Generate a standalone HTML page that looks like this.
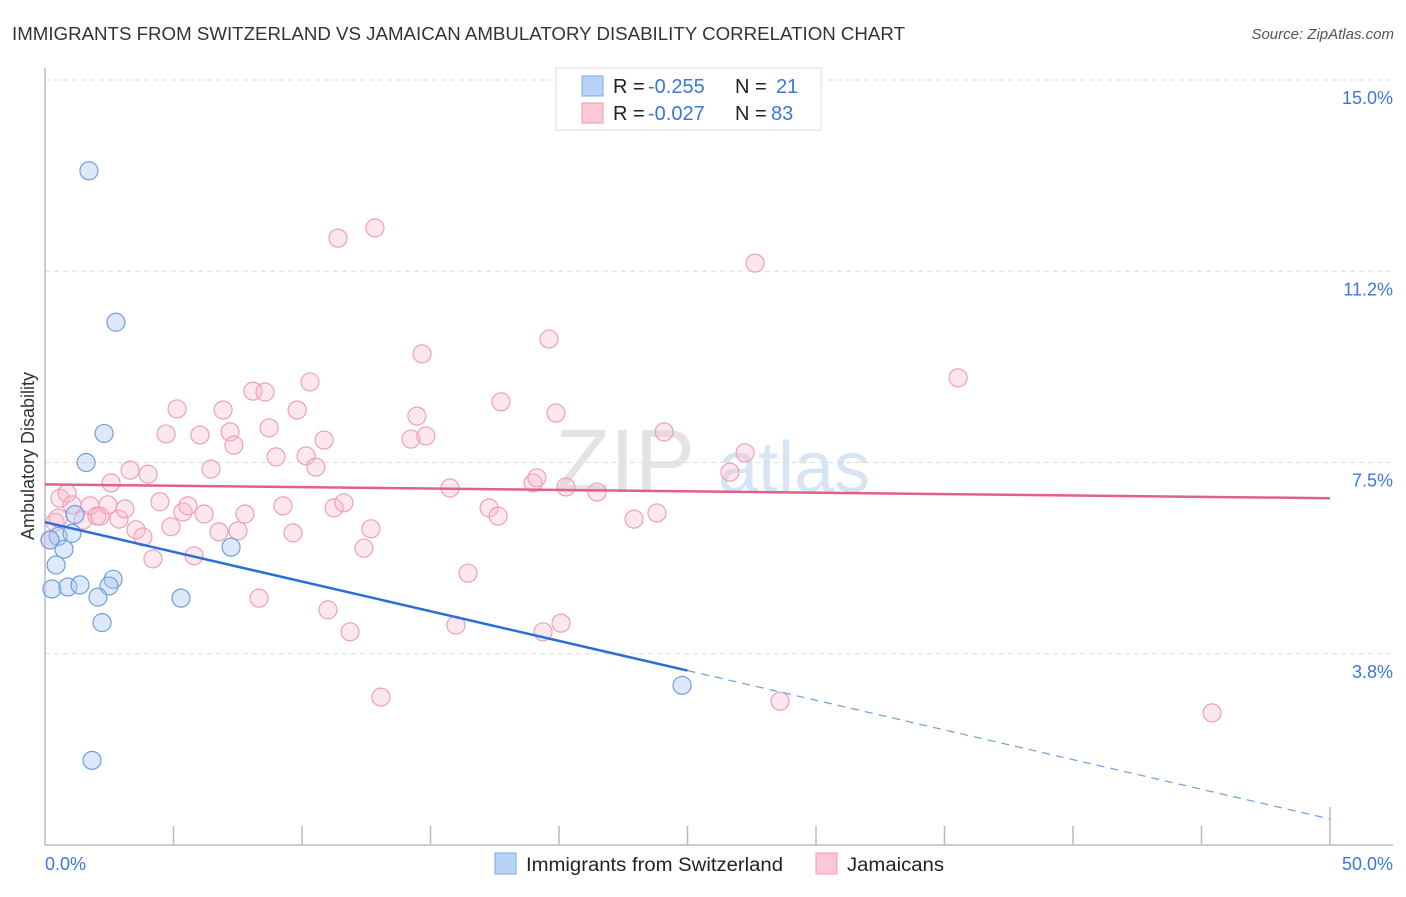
<!DOCTYPE html>
<html><head><meta charset="utf-8">
<style>
body{margin:0;background:#fff;font-family:"Liberation Sans",sans-serif;}
svg text{font-family:"Liberation Sans",sans-serif;}
</style></head>
<body>
<svg id="chart" width="1406" height="892" xmlns="http://www.w3.org/2000/svg">
<text x="12" y="40" font-size="18" fill="#333" textLength="893" lengthAdjust="spacingAndGlyphs">IMMIGRANTS FROM SWITZERLAND VS JAMAICAN AMBULATORY DISABILITY CORRELATION CHART</text>
<text x="1394" y="39" font-size="15" fill="#555" text-anchor="end" font-style="italic">Source: ZipAtlas.com</text>
<text x="555" y="492" font-size="90" fill="#e4e4e4" font-family="Liberation Serif">ZIP</text>
<text x="718" y="492" font-size="72" fill="#d6e4f4">atlas</text>
<g id="grid"></g>
<g id="axes"></g>
<g id="marks"></g>
<text transform="translate(34,456) rotate(-90)" font-size="18" fill="#333" text-anchor="middle">Ambulatory Disability</text>
<g>
<rect x="556" y="68" width="265" height="62" fill="#fff" stroke="#ddd"/>
<rect x="582" y="76" width="21" height="20" fill="#b8d3f5" stroke="#7aa8e6"/>
<rect x="582" y="103" width="21" height="20" fill="#fcc8d8" stroke="#ee9ab5"/>
<text x="613" y="93" font-size="20" fill="#222">R =</text>
<text x="648" y="93" font-size="20" fill="#3a78d8">-0.255</text>
<text x="735" y="93" font-size="20" fill="#222">N =</text>
<text x="776" y="93" font-size="20" fill="#3a78d8">21</text>
<text x="613" y="120" font-size="20" fill="#222">R =</text>
<text x="648" y="120" font-size="20" fill="#3a78d8">-0.027</text>
<text x="735" y="120" font-size="20" fill="#222">N =</text>
<text x="771" y="120" font-size="20" fill="#3a78d8">83</text>
</g>
<g>
<rect x="495" y="853" width="21" height="21" fill="#b8d3f5" stroke="#7aa8e6"/>
<text x="526" y="871" font-size="19" fill="#222" textLength="257" lengthAdjust="spacingAndGlyphs">Immigrants from Switzerland</text>
<rect x="816" y="853" width="21" height="21" fill="#fcc8d8" stroke="#ee9ab5"/>
<text x="847" y="871" font-size="19" fill="#222" textLength="97" lengthAdjust="spacingAndGlyphs">Jamaicans</text>
</g>
</svg>
<script>
const yTicks=[15.0,11.25,7.5,3.75];
const yTickLabels=["15.0%","11.2%","7.5%","3.8%"];
const xTickLabels=["0.0%","50.0%"];
const blueX=[1.71,2.76,2.30,1.60,1.17,0.51,1.05,0.74,0.43,0.27,0.89,1.36,2.65,2.49,2.06,5.29,2.22,7.24,24.79,1.83,0.2];
const blueY=[13.22,10.25,8.07,7.5,6.48,6.05,6.11,5.80,5.49,5.02,5.06,5.10,5.21,5.08,4.86,4.84,4.36,5.84,3.13,1.66,5.98];
const pinkPx=[[55,522],[60,498],[67,493],[72,505],[83,520],[90,506],[97,516],[100,516],[108,505],[111,483],[119,519],[125,509],[130,470],[136,530],[143,537],[148,474],[153,559],[160,502],[166,434],[171,527],[177,409],[183,512],[188,506],[194,556],[200,435],[204,514],[211,469],[219,532],[223,410],[230,432],[234,445],[238,531],[245,514],[253,391],[259,598],[265,392],[269,428],[276,457],[283,506],[293,533],[297,410],[306,456],[310,382],[316,467],[324,440],[328,610],[334,508],[338,238],[344,503],[350,632],[364,548],[371,529],[375,228],[381,697],[411,439],[417,416],[422,354],[426,436],[450,488],[456,625],[468,573],[489,508],[498,516],[501,402],[533,483],[537,478],[543,632],[549,339],[556,413],[561,623],[566,487],[597,492],[634,519],[657,513],[664,432],[730,472],[745,453],[755,263],[780,701],[958,378],[1212,713],[50,540],[58,518]];
const pinkX=pinkPx.map(p=>+((p[0]-45)/25.7).toFixed(2));
const pinkY=pinkPx.map(p=>+((845-p[1])/51).toFixed(2));
const blueTrend=[6.33,0.51];
const pinkTrend=[7.07,6.80];

const X0=45,X1=1330,Y0=845;
const sx=v=>X0+v/50*(X1-X0);
const sy=v=>Y0-v*51.0;
const NS="http://www.w3.org/2000/svg";
function mk(tag,attrs,parent){const e=document.createElementNS(NS,tag);for(const k in attrs)e.setAttribute(k,attrs[k]);parent.appendChild(e);return e;}
const grid=document.getElementById('grid'),axes=document.getElementById('axes'),marks=document.getElementById('marks');
yTicks.forEach((t,i)=>{
 const l=mk('line',{x1:X0,x2:1393,y1:sy(t),y2:sy(t),stroke:'#ddd','stroke-dasharray':'5,4'},grid);
 
 
 const tx=mk('text',{x:1393,y:sy(t)+24,'font-size':18,fill:'#3a78d8','text-anchor':'end'},grid);
 tx.textContent=yTickLabels[i];
 
 
});
let a=mk('line',{x1:X0,x2:X0,y1:68,y2:Y0,stroke:'#bbb','stroke-width':1.5},axes);


a=mk('line',{x1:X0,x2:1393,y1:Y0,y2:Y0,stroke:'#bbb','stroke-width':1.5},axes);


for(let i=1;i<=10;i++){
 const t=mk('line',{x1:sx(i*5),x2:sx(i*5),y1:i==10?807:826,y2:Y0,stroke:'#bbb','stroke-width':1.5},axes);
 
 
}
let xl=mk('text',{x:45,y:870,'font-size':18,fill:'#3a78d8'},axes);xl.textContent=xTickLabels[0];


xl=mk('text',{x:1393,y:870,'font-size':18,fill:'#3a78d8','text-anchor':'end'},axes);xl.textContent=xTickLabels[1];


pinkX.forEach((x,i)=>{
 const c=mk('circle',{cx:sx(x),cy:sy(pinkY[i]),r:9,fill:'rgba(248,185,205,0.35)',stroke:'#eea0b8','stroke-width':1.2},marks);
 
 
});
blueX.forEach((x,i)=>{
 const c=mk('circle',{cx:sx(x),cy:sy(blueY[i]),r:9,fill:'rgba(170,200,242,0.4)',stroke:'#6d9fe0','stroke-width':1.2},marks);
 
 
});
const by=x=>blueTrend[0]+(blueTrend[1]-blueTrend[0])*x/50;
let ln=mk('line',{x1:sx(0),y1:sy(by(0)),x2:sx(25),y2:sy(by(25)),stroke:'#2b6fd6','stroke-width':2.5},marks);


ln=mk('line',{x1:sx(25),y1:sy(by(25)),x2:sx(50),y2:sy(by(50)),stroke:'#6d9fe0','stroke-width':1.2,'stroke-dasharray':'8,6'},marks);


ln=mk('line',{x1:sx(0),y1:sy(pinkTrend[0]),x2:sx(50),y2:sy(pinkTrend[1]),stroke:'#e0608a','stroke-width':2.5},marks);


</script>
</body></html>
